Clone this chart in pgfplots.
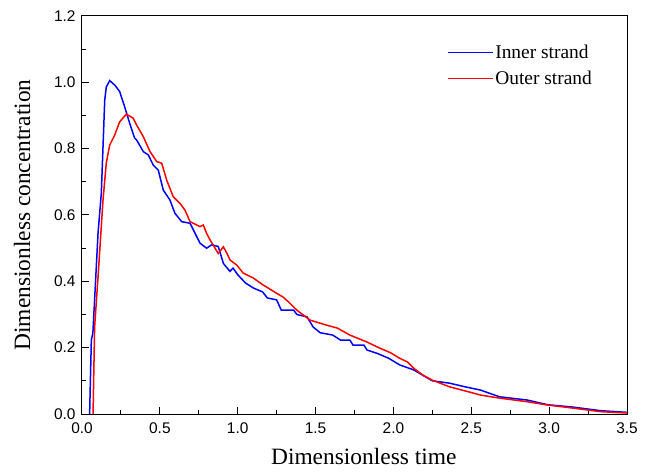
\documentclass[border=0pt]{standalone}
\usepackage{fontspec}
\setmainfont{Liberation Serif}
\newfontfamily\ticksans{Liberation Sans}
\usepackage{pgfplots}
\pgfplotsset{compat=1.18}

\begin{document}
\begin{tikzpicture}
\begin{axis}[
    scale only axis,
    width=545bp, height=398bp,
    xmin=0, xmax=3.5, ymin=0, ymax=1.2,
    xtick={0,0.5,...,3.5},
    ytick={0,0.2,...,1.2},
    minor x tick num=1, minor y tick num=1,
    xtick pos=left, ytick pos=left,
    tick align=inside,
    major tick length=7bp, minor tick length=4bp,
    tick style={black, line width=1bp},
    axis line style={line width=1bp},
    /pgf/number format/assume math mode=true,
    /pgf/number format/.cd, fixed, fixed zerofill, precision=1, /pgfplots/.cd,
    tick label style={font=\ticksans\fontsize{15.5}{18}\selectfont},
    xticklabel style={yshift=-5bp},
    yticklabel style={xshift=-3bp},
    xlabel={Dimensionless time},
    ylabel={Dimensionless concentration},
    label style={font=\fontsize{23.5}{27}\selectfont},
    xlabel style={at={(axis description cs:0.517,-0.108)}, anchor=center},
    ylabel style={at={(axis description cs:-0.11,0.5)}, anchor=center},
    legend style={draw=none, fill=none, at={(0.945,0.946)}, anchor=north east,
        font=\fontsize{19.5}{22}\selectfont, nodes={inner ysep=5.5bp}},
    legend cell align=left,
    legend image post style={sharp plot},
    legend image code/.code={\draw[#1, line width=1.5bp] (0,0) -- (45bp,0);},
]
\addplot[blue, line width=1.5bp] coordinates {
(0.049,0) (0.06,0.223) (0.07,0.245) (0.103,0.545) (0.124,0.665) (0.146,0.947)
(0.156,0.986) (0.178,1.005) (0.21,0.992) (0.242,0.972) (0.274,0.926) (0.306,0.877)
(0.338,0.832) (0.351,0.826) (0.394,0.791) (0.426,0.781) (0.458,0.75) (0.49,0.735)
(0.522,0.675) (0.565,0.645) (0.597,0.605) (0.64,0.58) (0.694,0.575) (0.758,0.515)
(0.80,0.50) (0.833,0.51) (0.875,0.505) (0.908,0.454) (0.95,0.43) (0.97,0.44)
(1.0,0.42) (1.05,0.395) (1.10,0.38) (1.16,0.368) (1.19,0.35) (1.25,0.344)
(1.28,0.313) (1.36,0.313) (1.38,0.30) (1.445,0.293) (1.485,0.262) (1.53,0.245)
(1.61,0.238) (1.66,0.223) (1.72,0.223) (1.74,0.208) (1.81,0.208) (1.83,0.193)
(1.90,0.182) (1.97,0.168) (2.04,0.148) (2.13,0.133) (2.25,0.10) (2.36,0.093)
(2.46,0.082) (2.56,0.072) (2.68,0.052) (2.86,0.042) (2.99,0.028) (3.15,0.021)
(3.33,0.010) (3.5,0.005)
};
\addlegendentry{Inner strand}
\addplot[red, line width=1.5bp] coordinates {
(0.071,0) (0.081,0.262) (0.103,0.413) (0.135,0.645) (0.156,0.757) (0.178,0.811)
(0.21,0.841) (0.242,0.881) (0.285,0.904) (0.328,0.892) (0.351,0.871) (0.394,0.836)
(0.437,0.791) (0.48,0.761) (0.512,0.756) (0.544,0.705) (0.586,0.655) (0.629,0.635)
(0.661,0.615) (0.694,0.58) (0.758,0.565) (0.779,0.57) (0.80,0.545) (0.822,0.525)
(0.875,0.484) (0.908,0.504) (0.93,0.485) (0.951,0.464) (0.994,0.449) (1.035,0.425)
(1.10,0.41) (1.16,0.39) (1.25,0.364) (1.29,0.353) (1.335,0.334) (1.38,0.313)
(1.465,0.283) (1.57,0.268) (1.64,0.259) (1.72,0.238) (1.83,0.217) (1.91,0.199)
(1.98,0.185) (2.04,0.168) (2.09,0.157) (2.13,0.138) (2.19,0.117) (2.25,0.102)
(2.36,0.082) (2.49,0.066) (2.56,0.057) (2.68,0.048) (2.86,0.037) (2.99,0.027)
(3.15,0.018) (3.33,0.007) (3.5,0.003)
};
\addlegendentry{Outer strand}
\end{axis}
\path (current axis.south west) ++(-82bp,-58bp) (current axis.north east) ++(25bp,16bp);
\end{tikzpicture}
\end{document}
